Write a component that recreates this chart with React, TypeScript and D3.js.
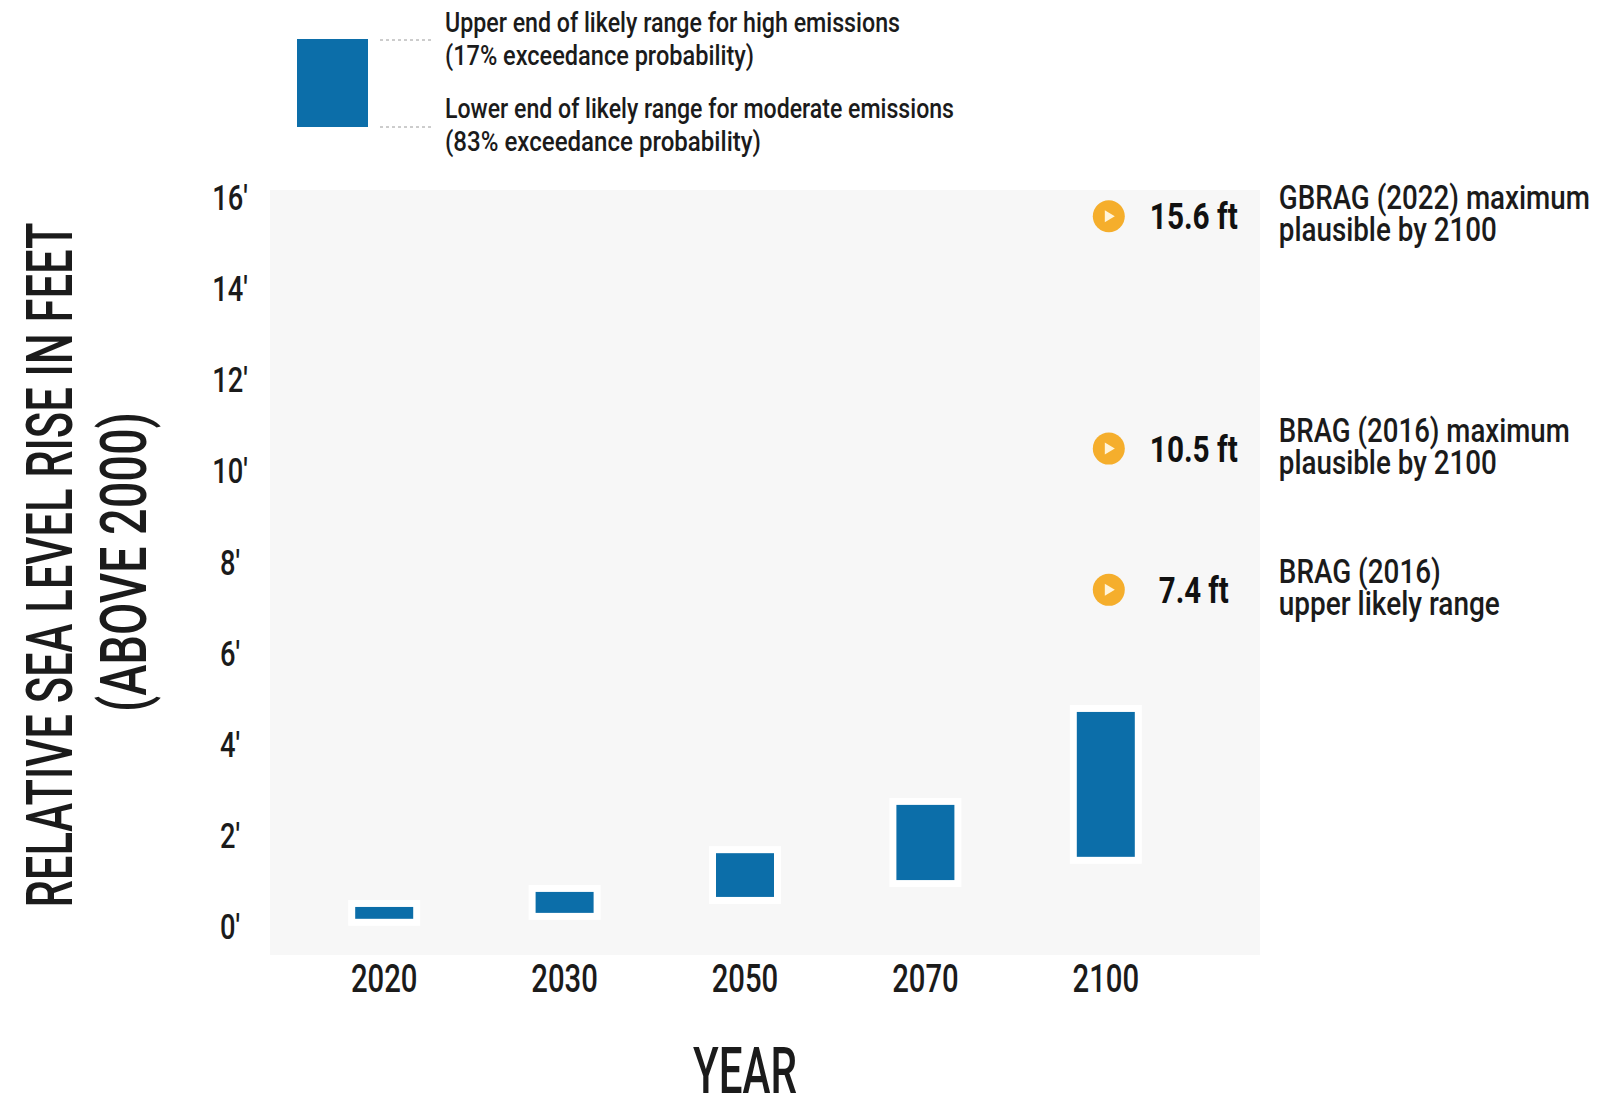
import React from "react";
import * as d3 from "d3";

// ---- data ----
const years = ["2020", "2030", "2050", "2070", "2100"];
const lowerEnd = [0.18, 0.31, 0.66, 1.03, 1.54]; // 83% exceedance, moderate emissions
const upperEnd = [0.44, 0.77, 1.62, 2.68, 4.72]; // 17% exceedance, high emissions
const yTicks = [0, 2, 4, 6, 8, 10, 12, 14, 16];
const markerValues = [15.6, 10.5, 7.4];
const markerLabels = ["15.6 ft", "10.5 ft", "7.4 ft"];
const markerNotes = [
  ["GBRAG (2022) maximum", "plausible by 2100"],
  ["BRAG (2016) maximum", "plausible by 2100"],
  ["BRAG (2016)", "upper likely range"],
];
const legendLines = [
  "Upper end of likely range for high emissions",
  "(17% exceedance probability)",
  "Lower end of likely range for moderate emissions",
  "(83% exceedance probability)",
];

// ---- styles ----
const W = 1617;
const H = 1099;
const FONT = "Roboto, 'Liberation Sans', sans-serif";
const BLUE = "#0C6EA9";
const ORANGE = "#F5AE2C";
const INK = "#1b1b1b";
const markerLabelWidths = [88, 88, 70];
const markerNoteWidths = [
  [311, 218],
  [291, 218],
  [162, 221],
];
const legendWidths = [455, 309, 509, 316];

export default function App() {
  const y = d3.scaleLinear().domain([0, 16]).range([927, 198]);
  const x = d3.scalePoint<string>().domain(years).range([294, 1196]).padding(0.5);
  const barW = 58;
  const halo = 7;
  const xLast = x(years[years.length - 1]) as number;

  return (
    <svg
      width={W}
      height={H}
      style={{ position: "absolute", left: 0, top: 0, background: "#fff" }}
      fontFamily={FONT}
      fontWeight={500}
    >
      <rect x={0} y={0} width={W} height={H} fill="#ffffff" />
      {/* plot background */}
      <rect x={270} y={190} width={990} height={765} fill="#f7f7f7" />

      {/* legend */}
      <rect x={297} y={39} width={71} height={88} fill={BLUE} />
      <line x1={380} x2={433} y1={40} y2={40} stroke="#9a9a9a" strokeWidth={1} strokeDasharray="3,3" />
      <line x1={380} x2={433} y1={127} y2={127} stroke="#9a9a9a" strokeWidth={1} strokeDasharray="3,3" />
      {legendLines.map((t, i) => (
        <text
          key={t}
          x={445}
          y={[32, 65, 118, 151][i]}
          fontSize={28}
          fill={INK}
          textLength={legendWidths[i]}
          lengthAdjust="spacingAndGlyphs"
        >
          {t}
        </text>
      ))}

      {/* y tick labels */}
      {yTicks.map((v) => (
        <text
          key={v}
          transform={`translate(230,${y(v) + 12}) scale(0.78,1)`}
          textAnchor="middle"
          fontSize={35}
          fill={INK}
        >
          {`${v}\u2032`}
        </text>
      ))}

      {/* y axis title */}
      <text
        transform="translate(72,565) rotate(-90)"
        textAnchor="middle"
        fontSize={64}
        fill={INK}
        textLength={685}
        lengthAdjust="spacingAndGlyphs"
      >
        RELATIVE SEA LEVEL RISE IN FEET
      </text>
      <text
        transform="translate(146,562) rotate(-90)"
        textAnchor="middle"
        fontSize={64}
        fill={INK}
        textLength={300}
        lengthAdjust="spacingAndGlyphs"
      >
        (ABOVE 2000)
      </text>

      {/* bars */}
      {years.map((yr, i) => {
        const cx = x(yr) as number;
        const top = y(upperEnd[i]);
        const bot = y(lowerEnd[i]);
        return (
          <g key={yr}>
            <rect
              x={cx - barW / 2 - halo}
              y={top - halo}
              width={barW + 2 * halo}
              height={bot - top + 2 * halo}
              fill="#ffffff"
            />
            <rect x={cx - barW / 2} y={top} width={barW} height={bot - top} fill={BLUE} />
          </g>
        );
      })}

      {/* x tick labels */}
      {years.map((yr) => (
        <text
          key={yr}
          transform={`translate(${x(yr)},992) scale(0.77,1)`}
          textAnchor="middle"
          fontSize={38}
          fill={INK}
        >
          {yr}
        </text>
      ))}

      {/* x axis title */}
      <text
        x={745}
        y={1093}
        textAnchor="middle"
        fontSize={64}
        fill={INK}
        textLength={104}
        lengthAdjust="spacingAndGlyphs"
      >
        YEAR
      </text>

      {/* markers */}
      {markerValues.map((v, i) => {
        const cy = y(v);
        const cx = xLast + 3;
        return (
          <g key={v}>
            <circle cx={cx} cy={cy} r={16} fill={ORANGE} />
            <path
              d={`M${cx - 4},${cy - 6} L${cx + 6},${cy} L${cx - 4},${cy + 6} Z`}
              fill="#FFF4DA"
            />
            <text
              x={xLast + 88}
              y={cy + 13}
              textAnchor="middle"
              fontSize={36}
              fontWeight={700}
              fill="#111"
              textLength={markerLabelWidths[i]}
              lengthAdjust="spacingAndGlyphs"
            >
              {markerLabels[i]}
            </text>
            {markerNotes[i].map((t, j) => (
              <text
                key={j}
                x={xLast + 173}
                y={cy - 7 + j * 32}
                fontSize={33}
                fill={INK}
                textLength={markerNoteWidths[i][j]}
                lengthAdjust="spacingAndGlyphs"
              >
                {t}
              </text>
            ))}
          </g>
        );
      })}
    </svg>
  );
}
